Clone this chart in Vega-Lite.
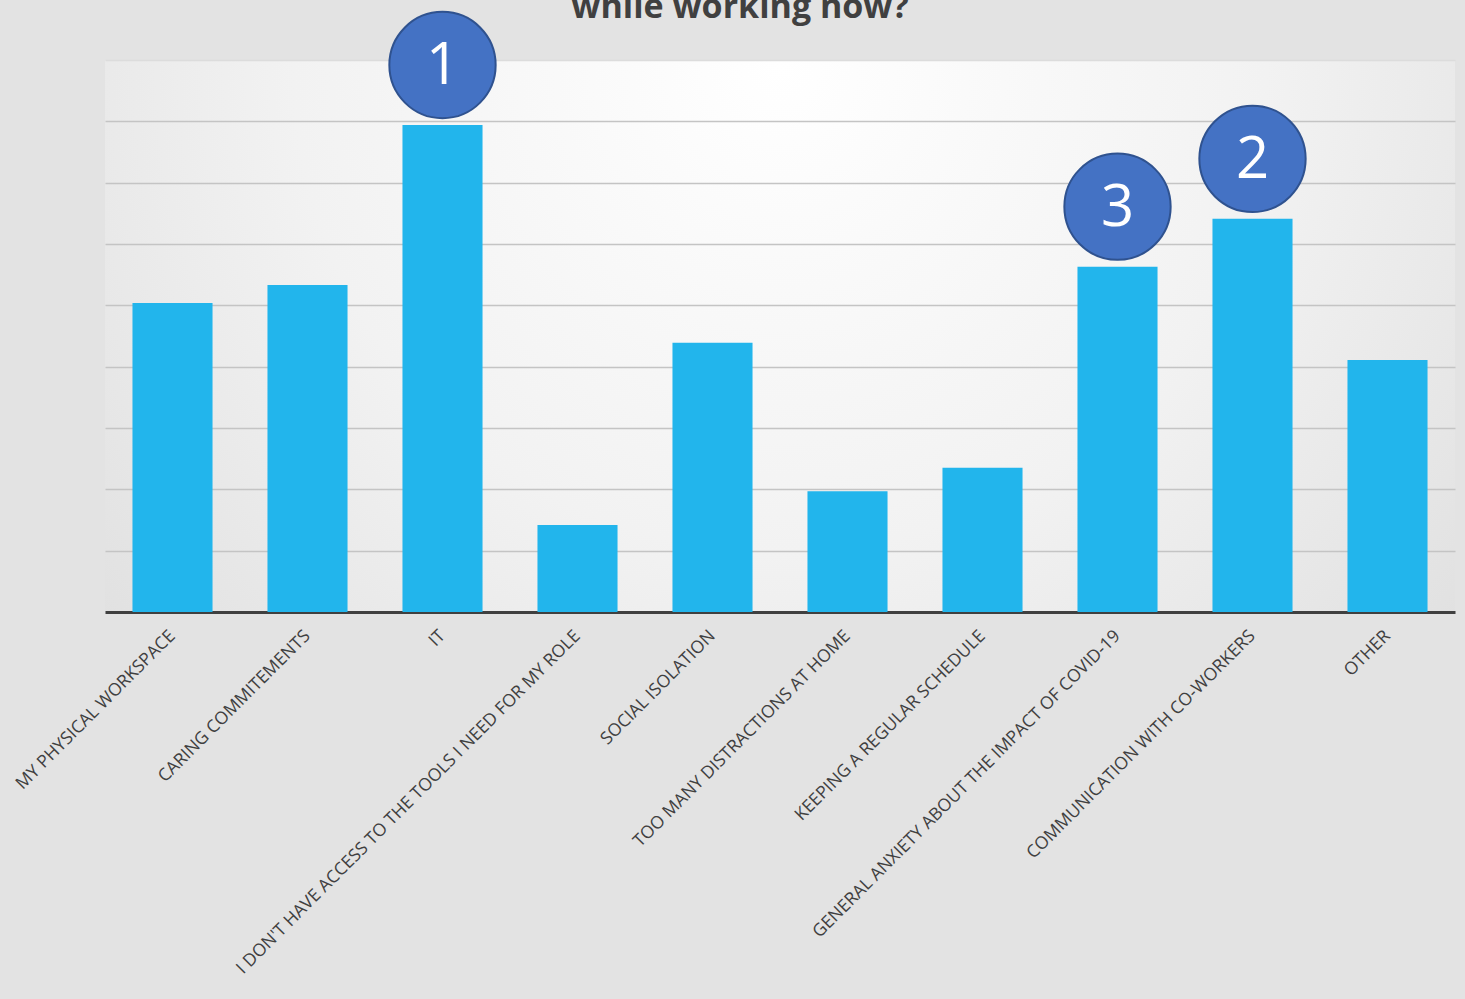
{
  "$schema": "https://vega.github.io/schema/vega-lite/v6.json",
  "autosize": {"type": "none"},
  "width": 1350,
  "height": 552,
  "padding": {"left": 105, "top": 60, "right": 10, "bottom": 387},
  "background": "#e3e3e3",
  "config": {
    "view": {
      "stroke": null,
      "fill": {
        "gradient": "radial",
        "x1": 0.5, "y1": 0.3, "x2": 0.5, "y2": 0.3,
        "r1": 0, "r2": 0.8,
        "stops": [
          {"offset": 0, "color": "#ffffff"},
          {"offset": 0.45, "color": "#f2f2f2"},
          {"offset": 1, "color": "#d8d8d8"}
        ]
      }
    },
    "font": "Open Sans"
  },
  "title": {
    "text": "while working now?",
    "fontSize": 34,
    "fontWeight": "bold",
    "font": "Open Sans",
    "color": "#404040",
    "anchor": "middle",
    "baseline": "alphabetic",
    "offset": -44,
    "dx": -40
  },
  "data": {
    "values": [
      {"category": "MY PHYSICAL WORKSPACE", "value": 5.04, "rank": null},
      {"category": "CARING COMMITEMENTS", "value": 5.33, "rank": null},
      {"category": "IT", "value": 7.94, "rank": "1"},
      {"category": "I DON'T HAVE ACCESS TO THE TOOLS I NEED FOR MY ROLE", "value": 1.42, "rank": null},
      {"category": "SOCIAL ISOLATION", "value": 4.39, "rank": null},
      {"category": "TOO MANY DISTRACTIONS AT HOME", "value": 1.97, "rank": null},
      {"category": "KEEPING A REGULAR SCHEDULE", "value": 2.35, "rank": null},
      {"category": "GENERAL ANXIETY ABOUT THE IMPACT OF COVID-19", "value": 5.63, "rank": "3"},
      {"category": "COMMUNICATION WITH CO-WORKERS", "value": 6.41, "rank": "2"},
      {"category": "OTHER", "value": 4.11, "rank": null}
    ]
  },
  "encoding": {
    "x": {
      "field": "category",
      "type": "nominal",
      "sort": null,
      "scale": {"paddingInner": 0.407, "paddingOuter": 0.2035},
      "axis": {
        "title": null,
        "labelAngle": -45,
        "labelAlign": "right",
        "labelBaseline": "middle",
        "labelFontSize": 17.5,
        "labelFont": "Open Sans",
        "labelColor": "#404040",
        "labelPadding": 21,
        "labelLimit": 800,
        "ticks": false,
        "domainColor": "#404040",
        "domainWidth": 3,
        "grid": false
      }
    },
    "y": {
      "field": "value",
      "type": "quantitative",
      "scale": {"domain": [0, 9], "nice": false},
      "axis": {
        "title": null,
        "values": [1, 2, 3, 4, 5, 6, 7, 8, 9],
        "labels": false,
        "ticks": false,
        "domain": false,
        "grid": true,
        "gridColor": {"condition": {"test": "datum.value == 9", "value": "#dcdcdc"}, "value": "#c4c4c4"},
        "gridWidth": 1.5
      }
    }
  },
  "layer": [
    {
      "mark": {"type": "bar", "color": "#22b5ec"}
    },
    {
      "transform": [{"filter": "datum.rank != null"}],
      "mark": {
        "type": "point",
        "shape": "circle",
        "filled": true,
        "size": 11300,
        "fill": "#4472c4",
        "stroke": "#2f528f",
        "strokeWidth": 2,
        "opacity": 1,
        "yOffset": -60,
        "clip": false
      }
    },
    {
      "transform": [{"filter": "datum.rank != null"}],
      "mark": {
        "type": "text",
        "font": "Open Sans",
        "fontSize": 58,
        "color": "#ffffff",
        "baseline": "middle",
        "align": "center",
        "yOffset": -58
      },
      "encoding": {"text": {"field": "rank"}}
    }
  ]
}
